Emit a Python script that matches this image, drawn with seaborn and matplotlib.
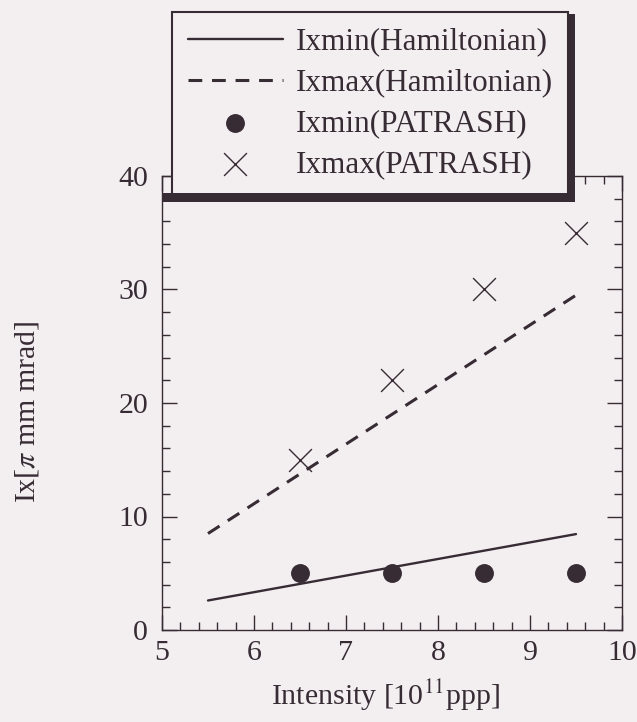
import numpy as np
import pandas as pd
import matplotlib
matplotlib.use("Agg")
import matplotlib.pyplot as plt
import matplotlib.transforms as mtransforms
from matplotlib.patches import Rectangle
from matplotlib.ticker import MultipleLocator
import seaborn as sns

# Beam intensity [10^11 ppp]
ham_intensity = [5.5, 9.5]
ham_ixmin = [2.6, 8.45]
ham_ixmax = [8.5, 29.5]

sim_intensity = [6.5, 7.5, 8.5, 9.5]
sim_ixmin = [5.0, 5.0, 5.0, 5.0]
sim_ixmax = [15.0, 22.0, 30.0, 35.0]

labels = ["Ixmin(Hamiltonian)", "Ixmax(Hamiltonian)",
          "Ixmin(PATRASH)", "Ixmax(PATRASH)"]

x_ticks = [5, 6, 7, 8, 9, 10]
y_ticks = [0, 10, 20, 30, 40]

INK = "#372b34"
PAPER = "#f3eff1"

sns.set_theme(style="ticks")
plt.rcParams["font.family"] = ["Liberation Serif", "DejaVu Serif"]
plt.rcParams["mathtext.fontset"] = "stix"

fig = plt.figure(figsize=(6.37, 7.22), dpi=100, facecolor=PAPER)
ax = fig.add_axes([162 / 637, 92 / 722, 460 / 637, 454 / 722])
ax.set_facecolor(PAPER)

ham = pd.DataFrame({"I": ham_intensity, "min": ham_ixmin, "max": ham_ixmax})
sim = pd.DataFrame({"I": sim_intensity, "min": sim_ixmin, "max": sim_ixmax})

sns.lineplot(data=ham, x="I", y="min", ax=ax, color=INK, linewidth=1.7,
             label=labels[0])
sns.lineplot(data=ham, x="I", y="max", ax=ax, color=INK, linewidth=2.2,
             linestyle=(0, (4.5, 3.2)), label=labels[1])
sns.scatterplot(data=sim, x="I", y="min", ax=ax, color=INK, marker="o",
                s=185, linewidth=0, label=labels[2], zorder=3)
sns.scatterplot(data=sim, x="I", y="max", ax=ax, color=INK, marker="x",
                s=270, linewidths=1.0, label=labels[3], zorder=3)

ax.set_xlim(5, 10)
ax.set_ylim(0, 40)
ax.set_xticks(x_ticks)
ax.set_yticks(y_ticks)
ax.xaxis.set_minor_locator(MultipleLocator(0.2))
ax.yaxis.set_minor_locator(MultipleLocator(2))
ax.tick_params(which="both", direction="in", top=True, right=True,
               color=INK, width=1.0, labelcolor=INK, labelsize=21.5)
ax.tick_params(which="major", length=11)
ax.tick_params(which="minor", length=6)
ax.tick_params(axis="x", which="major", pad=7)
ax.tick_params(axis="y", which="major", pad=10)
for sp in ax.spines.values():
    sp.set_color(INK)
    sp.set_linewidth(1.0)

ax.set_xlabel(r"Intensity [10$^{\rm 11}$ppp]", fontsize=21.5, color=INK)
ax.set_ylabel(r"Ix[$\pi$ mm mrad]", fontsize=21.5, color=INK)
ax.xaxis.set_label_coords(0.485, -0.105)
ax.yaxis.set_label_coords(-0.262, 0.48)

handles, lbls = ax.get_legend_handles_labels()
leg = ax.legend(handles, lbls, loc="upper left",
                bbox_to_anchor=(172 / 637, 1 - 12 / 722),
                bbox_transform=fig.transFigure, borderaxespad=0,
                fontsize=22.5, frameon=True, fancybox=False, framealpha=1,
                facecolor=PAPER, edgecolor=INK, handlelength=3.05,
                handletextpad=0.4, labelspacing=0.38, borderpad=0.5,
                markerscale=1.0)
leg.get_frame().set_linewidth(1.5)
for t in leg.get_texts():
    t.set_color(INK)

# heavy drop shadow along the right and bottom edges of the legend box
fig.canvas.draw()
renderer = fig.canvas.get_renderer()
bb = leg.get_frame().get_window_extent(renderer)
ax_bb = ax.get_window_extent(renderer)
ident = mtransforms.IdentityTransform()
fig.add_artist(Rectangle((bb.x1 - 1, bb.y0 - 7), 8, bb.height + 5,
                         transform=ident, color=INK, lw=0, zorder=10))
fig.add_artist(Rectangle((ax_bb.x0, bb.y0 - 7), bb.x1 + 7 - ax_bb.x0, 9,
                         transform=ident, color=INK, lw=0, zorder=10))

fig.savefig("out.png", dpi=100, facecolor=PAPER)
